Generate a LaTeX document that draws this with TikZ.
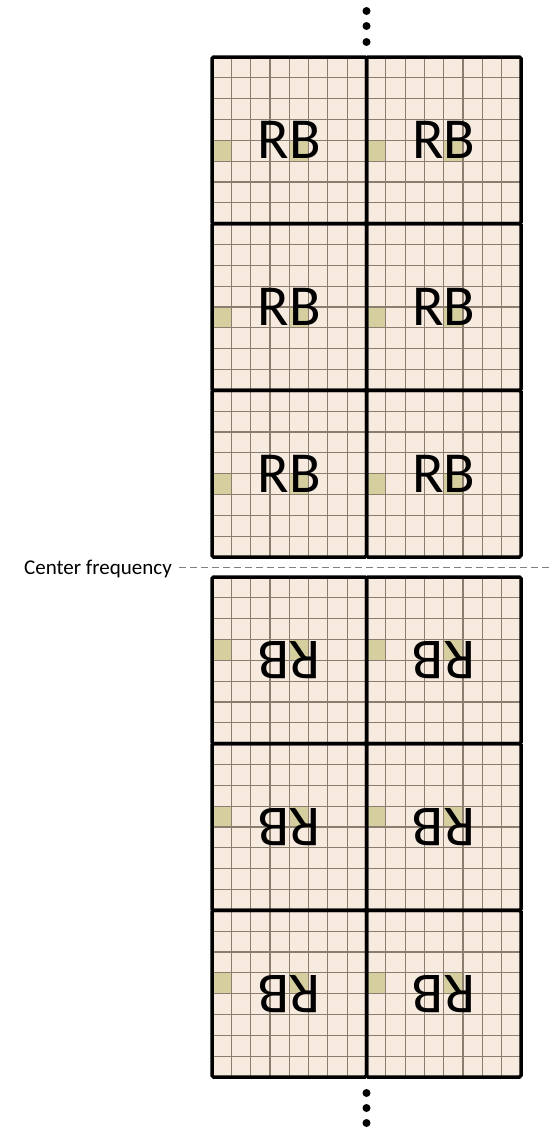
\documentclass[tikz,border=0pt]{standalone}
\usepackage{fontspec}
\setmainfont{Carlito}
\usepackage{xcolor}
\usepackage{tikz}
\usetikzlibrary{positioning}
\definecolor{rbfill}{RGB}{247,234,222}
\definecolor{rbgrid}{RGB}{140,126,110}
\definecolor{rbpilot}{RGB}{213,207,160}
\definecolor{cfgray}{RGB}{128,128,128}

\begin{document}
\begin{tikzpicture}[
      x=1pt, y=-1pt,
      cellgrid/.style={draw=rbgrid, line width=1.2pt},
      rbframe/.style={draw=black, line width=3.5pt, rounded corners=1.5pt},
      pilot/.style={fill=rbpilot},
      rblabel/.style={font=\fontsize{58}{58}\selectfont, inner sep=0pt},
      cflabel/.style={font=\fontsize{21}{21}\selectfont, anchor=east, text depth=0pt, inner sep=0pt},
      cfline/.style={draw=cfgray, line width=1pt, dash pattern=on 7pt off 4pt},
      dotmark/.style={fill=black}
    ]
      \useasboundingbox (0,0) rectangle (549,1128);
      \def\cw{19.3125}
      \def\ch{20.8333}

      % Resource blocks
      \foreach \half/\top/\prow/\ang in {up/57/4/0, dn/577/3/180} {
        \foreach \r in {0,1,2} {
          \foreach \c in {0,1} {
            \pgfmathsetmacro\xa{212+\c*154.5}
            \pgfmathsetmacro\ya{\top+\r*166.667}
            \fill[rbfill] (\xa,\ya) rectangle ++(154.5,166.667);
            \foreach \pc in {0,4}
              \fill[pilot] (\xa+\pc*\cw,\ya+\prow*\ch) rectangle ++(\cw,\ch);
            \foreach \k in {1,...,7} {
              \draw[cellgrid] (\xa+\k*\cw,\ya) -- ++(0,166.667);
              \draw[cellgrid] (\xa,\ya+\k*\ch) -- ++(154.5,0);
            }
            \node[rblabel, rotate=\ang] (rb-\half-\r-\c) at (\xa+77.25,\ya+83.333) {RB};
          }
        }
      }
      \foreach \top in {57,577}
        \foreach \r in {0,1,2}
          \foreach \c in {0,1}
            \draw[rbframe] (212+\c*154.5,\top+\r*166.667) rectangle ++(154.5,166.667);

      % Center frequency
      \node[cflabel] (cf) at (172,567) {Center frequency};
      \coordinate (cfend) at (549,567);
      \draw[cfline] ([xshift=7pt]cf.east) -- (cfend);

      % More blocks above and below
      \foreach \y in {11,26,42,1093,1108,1123}
        \fill[dotmark] (366.5,\y) circle (4);

    \end{tikzpicture}
\end{document}
